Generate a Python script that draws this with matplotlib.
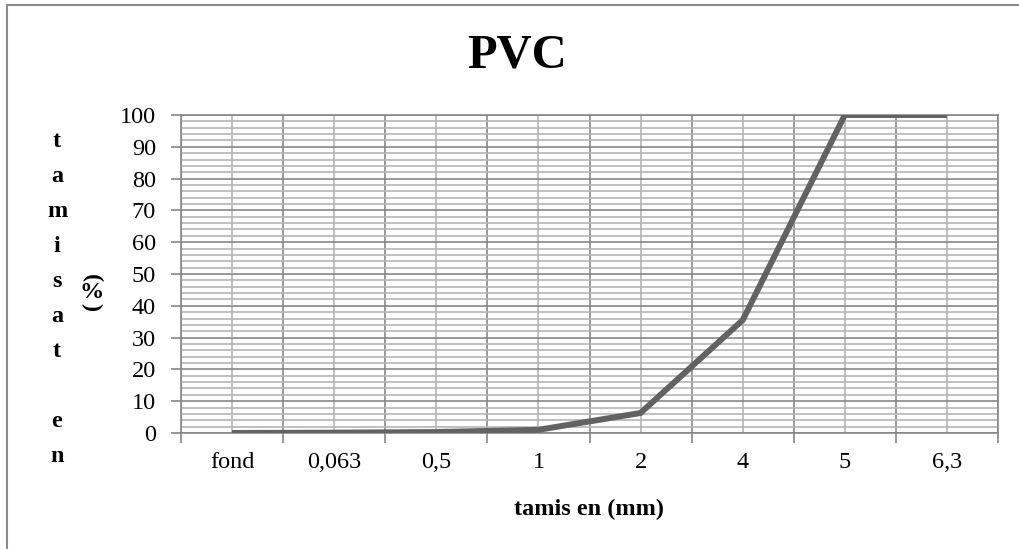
import matplotlib
matplotlib.use("Agg")
import matplotlib.pyplot as plt
from matplotlib.lines import Line2D
import numpy as np

# ---- data ----
categories = ["fond", "0,063", "0,5", "1", "2", "4", "5", "6,3"]
passing = [0.0, 0.1, 0.3, 1.0, 6.3, 35.5, 100.0, 100.0]
title = "PVC"
xlabel = "tamis en (mm)"
ylabel_stacked = "tamisat en"
ylabel_unit = ["(", "%", ")"]
y_ticks = list(range(0, 101, 10))

plt.rcParams['font.family'] = ['Liberation Serif', 'DejaVu Serif']

W, H = 1020, 549
fig = plt.figure(figsize=(W / 100, H / 100), dpi=100)

def fx(px):
    return px / W

def fy(py):
    return 1 - py / H

left, right, top, bottom = 181, 998, 115, 433
ax = fig.add_axes([fx(left), fy(bottom), fx(right) - fx(left), fy(top) - fy(bottom)])

n = len(categories)
xs = np.arange(n)
ax.set_xlim(-0.5, n - 0.5)
ax.set_ylim(0, 100)

major_c = "#878787"
minor_c = "#b5b5b5"

# x: boundaries as major ticks (dark grid, tick marks), centers as minor (labels, light grid)
ax.set_xticks(np.arange(-0.5, n, 1.0))
ax.set_xticklabels([])
ax.set_xticks(xs, categories, minor=True)
ax.tick_params(axis='x', which='major', length=7, width=1.2, color=major_c, direction='out')
ax.tick_params(axis='x', which='minor', length=0, labelsize=17.5, pad=14)

ax.set_yticks(y_ticks)
ax.set_yticks(np.arange(0, 101, 2), minor=True)
ax.tick_params(axis='y', which='major', length=7, width=1.2, color=major_c, labelsize=17.5, pad=11)
ax.tick_params(axis='y', which='minor', length=0)

ax.grid(True, which='major', color=major_c, linewidth=1.2)
ax.grid(True, which='minor', color=minor_c, linewidth=1.2)
ax.set_axisbelow(True)
for s in ax.spines.values():
    s.set_color(major_c)
    s.set_linewidth(1.2)

ax.plot(xs, passing, color="#626262", linewidth=4.3, solid_capstyle='butt', solid_joinstyle='miter', zorder=3)

ax.set_xlabel(xlabel, fontsize=17.5, fontweight='bold', labelpad=18)

fig.text(fx(517), fy(55), title, fontsize=35, fontweight='bold', ha='center', va='center')

# stacked y label
y0, dy = 141, 35.1
for i, ch in enumerate(ylabel_stacked):
    if ch.strip():
        fig.text(fx(57), fy(y0 + i * dy), ch, fontsize=17.5, fontweight='bold', ha='center', va='center')

fig.text(fx(91), fy(278), ylabel_unit[0], fontsize=17.5, fontweight='bold', ha='center', va='center', rotation=-90)
fig.text(fx(92), fy(292), ylabel_unit[1], fontsize=17.5, fontweight='bold', ha='center', va='center')
fig.text(fx(91), fy(307), ylabel_unit[2], fontsize=17.5, fontweight='bold', ha='center', va='center', rotation=-90)

# outer border (left and top visible)
fig.add_artist(Line2D([fx(7), fx(7)], [0, fy(5)], color="#8c8c8c", linewidth=1.5, transform=fig.transFigure))
fig.add_artist(Line2D([fx(7), 1], [fy(5), fy(5)], color="#8c8c8c", linewidth=1.5, transform=fig.transFigure))

fig.savefig("out.png", dpi=100, facecolor="white")
